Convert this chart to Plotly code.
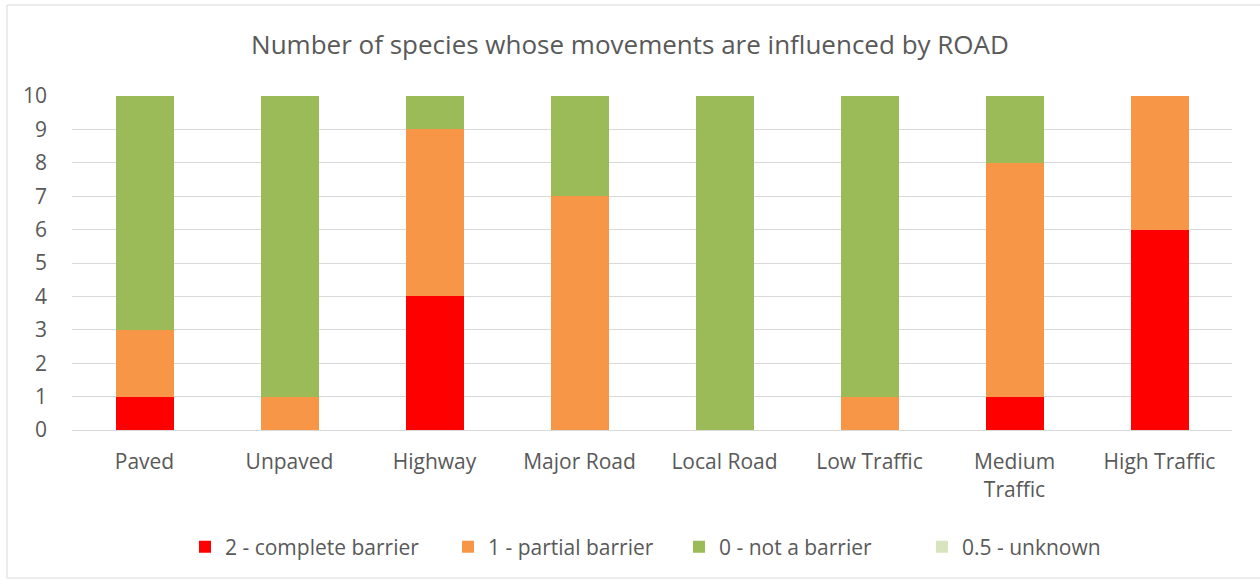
import plotly.graph_objects as go

categories = ["Paved", "Unpaved", "Highway", "Major Road", "Local Road",
              "Low Traffic", "Medium<br>Traffic", "High Traffic"]
complete_barrier = [1, 0, 4, 0, 0, 0, 1, 6]
partial_barrier = [2, 1, 5, 7, 0, 1, 7, 4]
not_a_barrier = [7, 9, 1, 3, 10, 9, 2, 0]
unknown = [0, 0, 0, 0, 0, 0, 0, 0]

series = [
    ("2 - complete barrier", complete_barrier, "#FF0000"),
    ("1 - partial barrier", partial_barrier, "#F79646"),
    ("0 - not a barrier", not_a_barrier, "#9BBB59"),
    ("0.5 - unknown", unknown, "#D7E4BD"),
]

FONT = "Open Sans, Noto Sans, DejaVu Sans, sans-serif"
PW, PH = 1160, 334
ML = 72
legend_px = [185, 448, 679, 922]
legend_ids = ["legend", "legend2", "legend3", "legend4"]

fig = go.Figure()
for (name, vals, col), lid in zip(series, legend_ids):
    fig.add_trace(go.Bar(x=categories, y=vals, name=name, legend=lid,
                         marker=dict(color=col, line=dict(width=0)),
                         width=0.4))

legend_common = dict(orientation="h", xanchor="left", y=-117/PH, yanchor="middle",
                     font=dict(family=FONT, size=21, color="#595959"),
                     itemwidth=30, bgcolor="rgba(0,0,0,0)")
legends = {lid: dict(legend_common, x=(px - ML)/PW) for lid, px in zip(legend_ids, legend_px)}

fig.update_layout(
    barmode="stack",
    width=1260, height=580,
    paper_bgcolor="white", plot_bgcolor="white",
    margin=dict(l=ML, r=28, t=96, b=150),
    title=dict(text="Number of species whose movements are influenced by ROAD",
               x=0.5, xanchor="center", y=1 - 45/580, yanchor="middle",
               font=dict(family=FONT, size=26, color="#595959")),
    font=dict(family=FONT, size=21, color="#595959"),
    showlegend=True,
    xaxis=dict(showgrid=False, showline=True, linecolor="#D9D9D9", linewidth=1,
               ticks="", ticklabelstandoff=13, tickfont=dict(size=21, color="#595959")),
    yaxis=dict(range=[0, 10], dtick=1, showgrid=True, gridcolor="#D9D9D9",
               gridwidth=1, zeroline=False, showline=False, ticks="",
               ticklabelstandoff=24, tickfont=dict(size=21, color="#595959")),
    shapes=[dict(type="rect", xref="paper", yref="paper",
                 x0=-65/PW, x1=1223/PW, y0=-148/PH, y1=1 + 91/PH,
                 line=dict(color="#D9D9D9", width=1), fillcolor="rgba(0,0,0,0)",
                 layer="below")],
    **legends,
)

fig.write_html("out.html", post_script="document.body.style.margin='0';",
               config={"displayModeBar": False})
